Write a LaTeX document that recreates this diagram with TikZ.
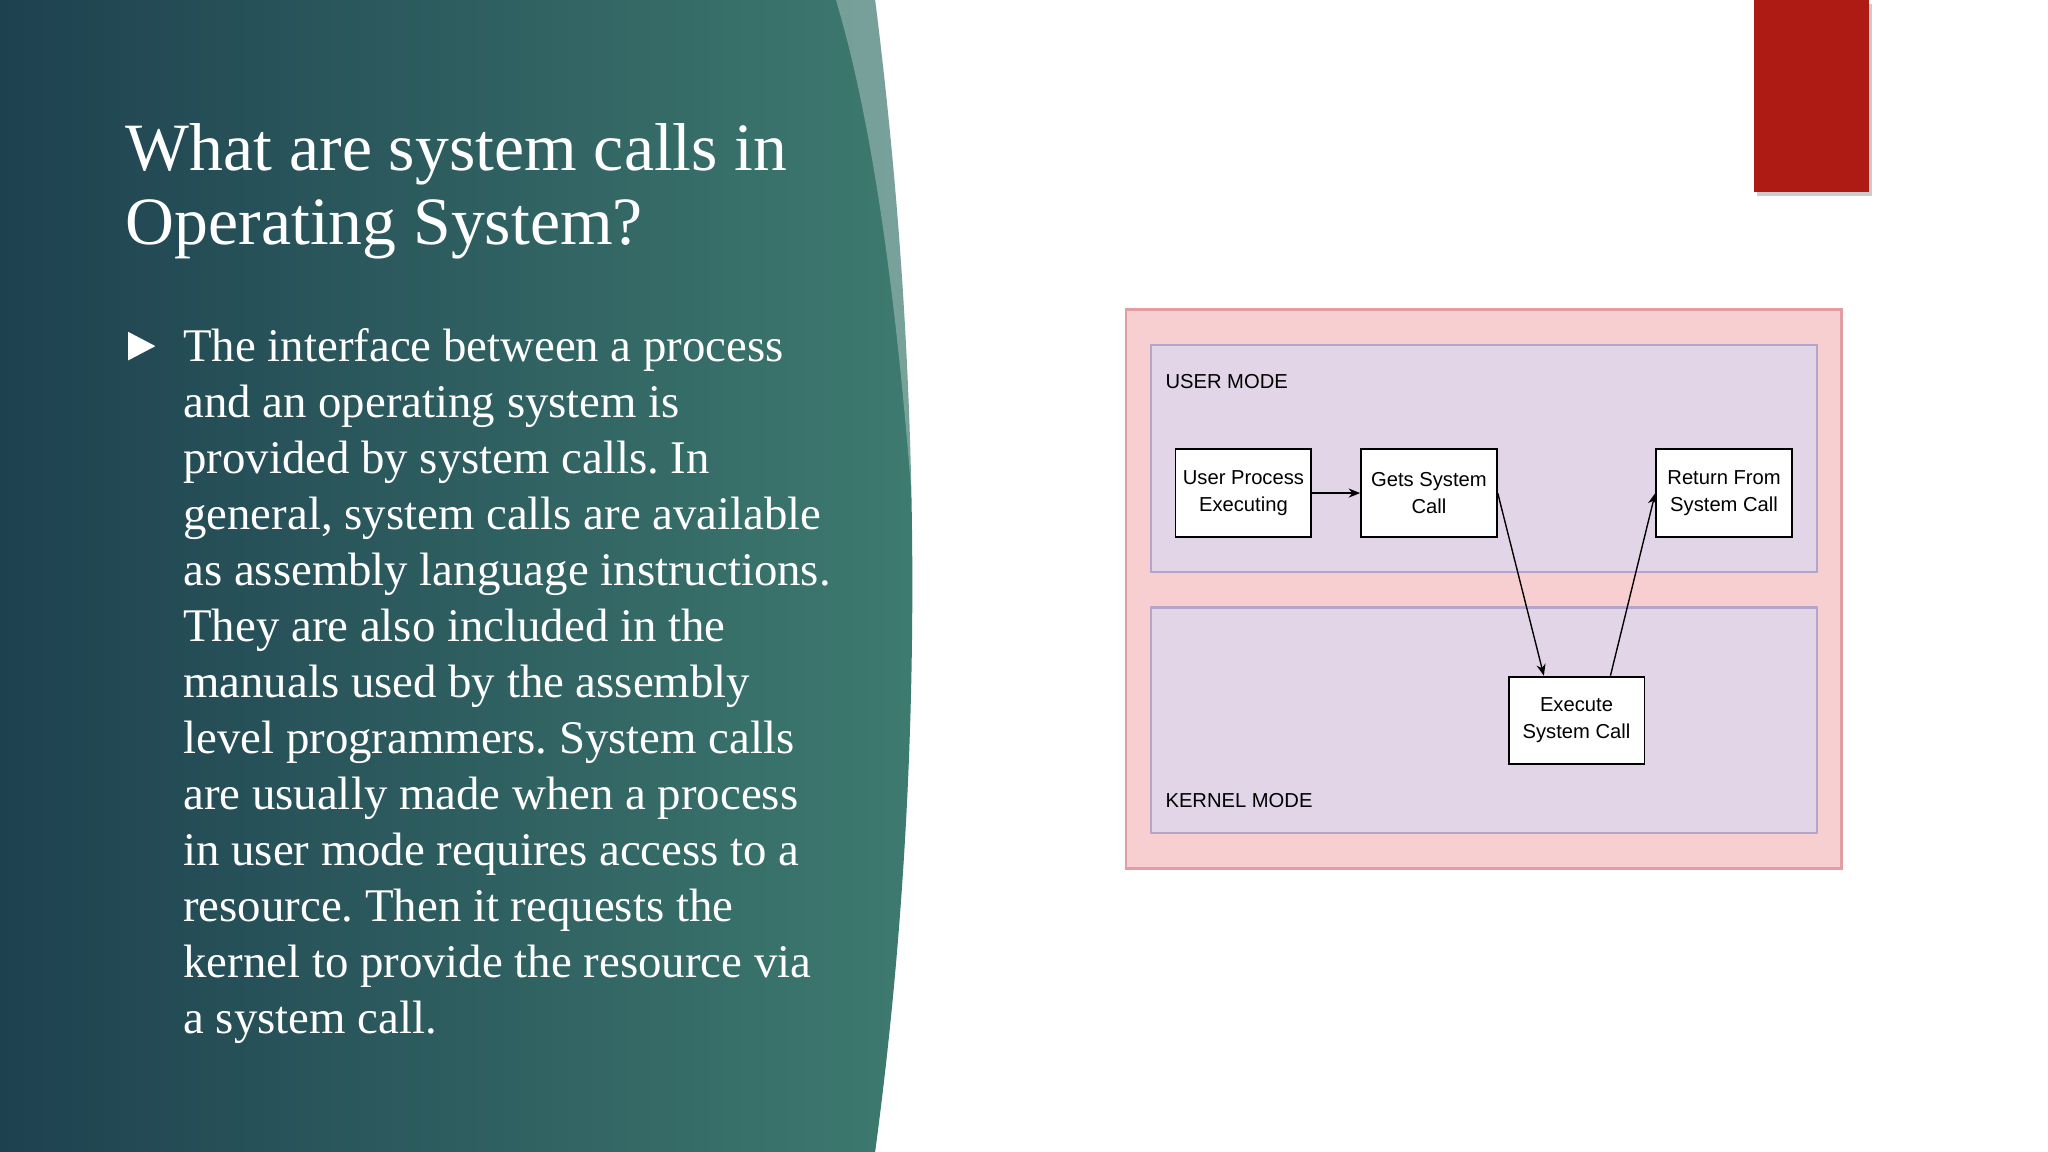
\documentclass[tikz,border=0pt]{standalone}
\usepackage{fontspec}
\setmainfont{Liberation Serif}
\setsansfont{Liberation Sans}
\usetikzlibrary{arrows.meta}
\frenchspacing
\definecolor{pinkbg}{HTML}{F7CFD0}
\definecolor{pinkbd}{HTML}{E39EA3}
\definecolor{lilac}{HTML}{E2D5E8}
\definecolor{lilacbd}{HTML}{B4A6CA}
\definecolor{redbox}{HTML}{AE1A14}
\definecolor{tealdark}{HTML}{1E4150}
\definecolor{teallight}{HTML}{3E7B70}
\tikzset{
  procbox/.style={draw=black,fill=white,line width=0.8pt,minimum width=2.08cm,minimum height=1.34cm,inner sep=0pt,align=center,font=\sffamily\fontsize{8.8}{11.5}\selectfont},
  modelabel/.style={anchor=west,inner sep=0pt,font=\sffamily\fontsize{8.8}{11}\selectfont},
  conn/.style={-{Stealth[length=5pt,width=4pt]},line width=0.6pt},
  panel/.style={fill=lilac,draw=lilacbd,line width=1pt}
}
\begin{document}
\begin{tikzpicture}[x=0.02cm,y=-0.02cm]
\useasboundingbox (0,0) rectangle (1568,882);
\fill[white] (0,0) rectangle (1568,882);
% left panel
\shade[left color=tealdark,right color=teallight] (0,0) -- (670,0) .. controls (708,300) and (708,600) .. (670,882) -- (0,882) -- cycle;
\fill[white,opacity=0.3] (640,0) -- (670,0) .. controls (690,150) and (700,300) .. (703,450) .. controls (690,250) and (670,100) .. (640,0) -- cycle;
% red box
\fill[gray!40] (1345,3) rectangle (1433,150);
\fill[redbox] (1343,0) rectangle (1431,147);
% title
\node[anchor=north west,inner sep=0pt,text=white,align=left,font=\fontsize{29.5}{32.4}\selectfont] (title) at (96,94) {What are system calls in\\Operating System?};
% bullet
\fill[white] (98,254) -- (119,265) -- (98,276) -- cycle;
\node[anchor=north west,inner sep=0pt,text=white,align=left,font=\fontsize{20.4}{24.4}\selectfont] (body) at (140,251) {The interface between a process\\and an operating system is\\provided by system calls. In\\general, system calls are available\\as assembly language instructions.\\They are also included in the\\manuals used by the assembly\\level programmers. System calls\\are usually made when a process\\in user mode requires access to a\\resource. Then it requests the\\kernel to provide the resource via\\a system call.};
% diagram
\fill[pinkbg] (862,237) rectangle (1410,665);
\draw[pinkbd,line width=1.2pt] (862,237) rectangle (1410,665);
\draw[panel] (881,264) rectangle (1391,438);
\draw[panel] (881,465) rectangle (1391,638);
\node[modelabel] (um) at (892,292) {USER MODE};
\node[modelabel] (km) at (892,613) {KERNEL MODE};
\node[procbox] (up) at (952,377.5) {User Process\\Executing};
\node[procbox] (gs) at (1094,377.5) {Gets System\\Call};
\node[procbox] (rf) at (1320,377.5) {Return From\\System Call};
\node[procbox] (ex) at (1207,551.5) {Execute\\System Call};
\draw[conn] (up.east) -- (gs.west);
\draw[conn] (gs.east) -- (ex.north west -| 1182,0);
\draw[conn] (ex.north east -| 1233,0) -- (rf.west);
\end{tikzpicture}
\end{document}
